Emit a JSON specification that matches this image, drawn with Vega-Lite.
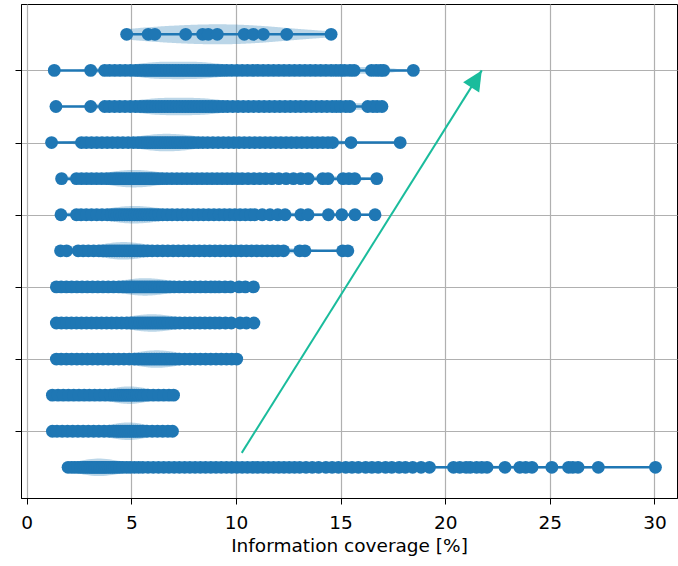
{
  "$schema": "https://vega.github.io/schema/vega-lite/v6.json",
  "width": 656,
  "height": 494,
  "autosize": {"type": "none"},
  "padding": {"left": 21, "top": 4, "right": 1, "bottom": 68},
  "background": "white",
  "config": {
    "font": "DejaVu Sans",
    "view": {"stroke": "black", "strokeWidth": 1},
    "axis": {
      "domainColor": "black", "tickColor": "black", "labelColor": "black", "titleColor": "black",
      "gridColor": "#b0b0b0", "gridWidth": 1.2, "tickSize": 6,
      "labelFont": "DejaVu Sans", "titleFont": "DejaVu Sans",
      "labelFontSize": 18.5, "titleFontSize": 18.5, "titleFontWeight": "normal", "zindex": 1
    }
  },
  "data": {"values": [
    {"row":1,"cov":1.98},{"row":1,"cov":2.15},{"row":1,"cov":2.3},{"row":1,"cov":2.45},{"row":1,"cov":2.58},{"row":1,"cov":2.7},{"row":1,"cov":2.8},{"row":1,"cov":2.9},{"row":1,"cov":3.0},{"row":1,"cov":3.08},{"row":1,"cov":3.16},{"row":1,"cov":3.24},{"row":1,"cov":3.32},{"row":1,"cov":3.4},{"row":1,"cov":3.48},{"row":1,"cov":3.56},{"row":1,"cov":3.64},{"row":1,"cov":3.72},{"row":1,"cov":3.8},{"row":1,"cov":3.9},{"row":1,"cov":4.0},{"row":1,"cov":4.1},{"row":1,"cov":4.2},{"row":1,"cov":4.32},{"row":1,"cov":4.45},{"row":1,"cov":4.6},{"row":1,"cov":4.78},{"row":1,"cov":4.95},{"row":1,"cov":5.15},{"row":1,"cov":5.35},{"row":1,"cov":5.55},{"row":1,"cov":5.8},{"row":1,"cov":6.05},{"row":1,"cov":6.3},{"row":1,"cov":6.55},{"row":1,"cov":6.8},{"row":1,"cov":7.05},{"row":1,"cov":7.3},{"row":1,"cov":7.55},{"row":1,"cov":7.8},{"row":1,"cov":8.05},{"row":1,"cov":8.3},{"row":1,"cov":8.55},{"row":1,"cov":8.8},{"row":1,"cov":9.05},{"row":1,"cov":9.3},{"row":1,"cov":9.55},{"row":1,"cov":9.8},{"row":1,"cov":10.05},{"row":1,"cov":10.3},{"row":1,"cov":10.55},{"row":1,"cov":10.8},{"row":1,"cov":11.05},{"row":1,"cov":11.3},{"row":1,"cov":11.55},{"row":1,"cov":11.8},{"row":1,"cov":12.05},{"row":1,"cov":12.3},{"row":1,"cov":12.55},{"row":1,"cov":12.8},{"row":1,"cov":13.05},{"row":1,"cov":13.35},{"row":1,"cov":13.65},{"row":1,"cov":13.95},{"row":1,"cov":14.3},{"row":1,"cov":14.6},{"row":1,"cov":14.9},{"row":1,"cov":15.25},{"row":1,"cov":15.55},{"row":1,"cov":15.85},{"row":1,"cov":16.2},{"row":1,"cov":16.5},{"row":1,"cov":16.8},{"row":1,"cov":17.15},{"row":1,"cov":17.45},{"row":1,"cov":17.8},{"row":1,"cov":18.1},{"row":1,"cov":18.45},{"row":1,"cov":18.85},{"row":1,"cov":19.25},{"row":1,"cov":20.4},{"row":1,"cov":20.7},{"row":1,"cov":21.0},{"row":1,"cov":21.2},{"row":1,"cov":21.5},{"row":1,"cov":21.75},{"row":1,"cov":22.0},{"row":1,"cov":22.86},{"row":1,"cov":23.57},{"row":1,"cov":23.85},{"row":1,"cov":24.15},{"row":1,"cov":25.1},{"row":1,"cov":25.9},{"row":1,"cov":26.1},{"row":1,"cov":26.35},{"row":1,"cov":27.32},{"row":1,"cov":30.05},
    {"row":2,"cov":1.23},{"row":2,"cov":1.45},{"row":2,"cov":1.7},{"row":2,"cov":1.95},{"row":2,"cov":2.2},{"row":2,"cov":2.45},{"row":2,"cov":2.7},{"row":2,"cov":2.95},{"row":2,"cov":3.2},{"row":2,"cov":3.45},{"row":2,"cov":3.7},{"row":2,"cov":3.95},{"row":2,"cov":4.15},{"row":2,"cov":4.3},{"row":2,"cov":4.4},{"row":2,"cov":4.5},{"row":2,"cov":4.6},{"row":2,"cov":4.7},{"row":2,"cov":4.8},{"row":2,"cov":4.9},{"row":2,"cov":5.0},{"row":2,"cov":5.1},{"row":2,"cov":5.2},{"row":2,"cov":5.3},{"row":2,"cov":5.42},{"row":2,"cov":5.55},{"row":2,"cov":5.75},{"row":2,"cov":6.0},{"row":2,"cov":6.25},{"row":2,"cov":6.5},{"row":2,"cov":6.75},{"row":2,"cov":6.97},
    {"row":3,"cov":1.23},{"row":3,"cov":1.5},{"row":3,"cov":1.75},{"row":3,"cov":2.0},{"row":3,"cov":2.25},{"row":3,"cov":2.5},{"row":3,"cov":2.75},{"row":3,"cov":3.0},{"row":3,"cov":3.25},{"row":3,"cov":3.5},{"row":3,"cov":3.75},{"row":3,"cov":4.0},{"row":3,"cov":4.2},{"row":3,"cov":4.35},{"row":3,"cov":4.45},{"row":3,"cov":4.55},{"row":3,"cov":4.65},{"row":3,"cov":4.75},{"row":3,"cov":4.85},{"row":3,"cov":4.95},{"row":3,"cov":5.05},{"row":3,"cov":5.15},{"row":3,"cov":5.25},{"row":3,"cov":5.35},{"row":3,"cov":5.48},{"row":3,"cov":5.6},{"row":3,"cov":5.8},{"row":3,"cov":6.05},{"row":3,"cov":6.3},{"row":3,"cov":6.55},{"row":3,"cov":6.8},{"row":3,"cov":7.02},
    {"row":4,"cov":1.42},{"row":4,"cov":1.65},{"row":4,"cov":1.9},{"row":4,"cov":2.15},{"row":4,"cov":2.4},{"row":4,"cov":2.65},{"row":4,"cov":2.9},{"row":4,"cov":3.15},{"row":4,"cov":3.4},{"row":4,"cov":3.65},{"row":4,"cov":3.9},{"row":4,"cov":4.15},{"row":4,"cov":4.4},{"row":4,"cov":4.65},{"row":4,"cov":4.9},{"row":4,"cov":5.15},{"row":4,"cov":5.35},{"row":4,"cov":5.5},{"row":4,"cov":5.62},{"row":4,"cov":5.74},{"row":4,"cov":5.86},{"row":4,"cov":5.98},{"row":4,"cov":6.1},{"row":4,"cov":6.22},{"row":4,"cov":6.34},{"row":4,"cov":6.46},{"row":4,"cov":6.58},{"row":4,"cov":6.7},{"row":4,"cov":6.82},{"row":4,"cov":6.95},{"row":4,"cov":7.1},{"row":4,"cov":7.3},{"row":4,"cov":7.55},{"row":4,"cov":7.8},{"row":4,"cov":8.05},{"row":4,"cov":8.3},{"row":4,"cov":8.55},{"row":4,"cov":8.8},{"row":4,"cov":9.05},{"row":4,"cov":9.3},{"row":4,"cov":9.55},{"row":4,"cov":9.8},{"row":4,"cov":10.04},
    {"row":5,"cov":1.42},{"row":5,"cov":1.66},{"row":5,"cov":1.9},{"row":5,"cov":2.14},{"row":5,"cov":2.38},{"row":5,"cov":2.62},{"row":5,"cov":2.86},{"row":5,"cov":3.1},{"row":5,"cov":3.34},{"row":5,"cov":3.58},{"row":5,"cov":3.82},{"row":5,"cov":4.06},{"row":5,"cov":4.3},{"row":5,"cov":4.54},{"row":5,"cov":4.78},{"row":5,"cov":5.0},{"row":5,"cov":5.16},{"row":5,"cov":5.3},{"row":5,"cov":5.42},{"row":5,"cov":5.54},{"row":5,"cov":5.66},{"row":5,"cov":5.78},{"row":5,"cov":5.9},{"row":5,"cov":6.02},{"row":5,"cov":6.14},{"row":5,"cov":6.26},{"row":5,"cov":6.38},{"row":5,"cov":6.5},{"row":5,"cov":6.62},{"row":5,"cov":6.76},{"row":5,"cov":6.92},{"row":5,"cov":7.1},{"row":5,"cov":7.32},{"row":5,"cov":7.56},{"row":5,"cov":7.8},{"row":5,"cov":8.04},{"row":5,"cov":8.28},{"row":5,"cov":8.52},{"row":5,"cov":8.76},{"row":5,"cov":9.0},{"row":5,"cov":9.22},{"row":5,"cov":9.5},{"row":5,"cov":9.78},{"row":5,"cov":10.2},{"row":5,"cov":10.5},{"row":5,"cov":10.86},
    {"row":6,"cov":1.42},{"row":6,"cov":1.65},{"row":6,"cov":1.9},{"row":6,"cov":2.15},{"row":6,"cov":2.4},{"row":6,"cov":2.65},{"row":6,"cov":2.9},{"row":6,"cov":3.15},{"row":6,"cov":3.4},{"row":6,"cov":3.65},{"row":6,"cov":3.9},{"row":6,"cov":4.15},{"row":6,"cov":4.4},{"row":6,"cov":4.6},{"row":6,"cov":4.78},{"row":6,"cov":4.92},{"row":6,"cov":5.04},{"row":6,"cov":5.16},{"row":6,"cov":5.28},{"row":6,"cov":5.4},{"row":6,"cov":5.52},{"row":6,"cov":5.64},{"row":6,"cov":5.76},{"row":6,"cov":5.88},{"row":6,"cov":6.0},{"row":6,"cov":6.12},{"row":6,"cov":6.24},{"row":6,"cov":6.36},{"row":6,"cov":6.5},{"row":6,"cov":6.66},{"row":6,"cov":6.85},{"row":6,"cov":7.05},{"row":6,"cov":7.3},{"row":6,"cov":7.55},{"row":6,"cov":7.8},{"row":6,"cov":8.05},{"row":6,"cov":8.3},{"row":6,"cov":8.55},{"row":6,"cov":8.8},{"row":6,"cov":9.0},{"row":6,"cov":9.2},{"row":6,"cov":9.48},{"row":6,"cov":9.75},{"row":6,"cov":10.15},{"row":6,"cov":10.45},{"row":6,"cov":10.84},
    {"row":7,"cov":1.62},{"row":7,"cov":1.91},{"row":7,"cov":2.46},{"row":7,"cov":2.7},{"row":7,"cov":2.95},{"row":7,"cov":3.2},{"row":7,"cov":3.45},{"row":7,"cov":3.65},{"row":7,"cov":3.82},{"row":7,"cov":3.96},{"row":7,"cov":4.08},{"row":7,"cov":4.2},{"row":7,"cov":4.32},{"row":7,"cov":4.44},{"row":7,"cov":4.56},{"row":7,"cov":4.68},{"row":7,"cov":4.8},{"row":7,"cov":4.92},{"row":7,"cov":5.04},{"row":7,"cov":5.16},{"row":7,"cov":5.28},{"row":7,"cov":5.42},{"row":7,"cov":5.58},{"row":7,"cov":5.78},{"row":7,"cov":6.0},{"row":7,"cov":6.25},{"row":7,"cov":6.5},{"row":7,"cov":6.75},{"row":7,"cov":7.0},{"row":7,"cov":7.25},{"row":7,"cov":7.5},{"row":7,"cov":7.75},{"row":7,"cov":8.0},{"row":7,"cov":8.25},{"row":7,"cov":8.5},{"row":7,"cov":8.75},{"row":7,"cov":9.0},{"row":7,"cov":9.25},{"row":7,"cov":9.5},{"row":7,"cov":9.75},{"row":7,"cov":10.0},{"row":7,"cov":10.25},{"row":7,"cov":10.5},{"row":7,"cov":10.75},{"row":7,"cov":11.0},{"row":7,"cov":11.25},{"row":7,"cov":11.5},{"row":7,"cov":11.75},{"row":7,"cov":12.0},{"row":7,"cov":12.28},{"row":7,"cov":13.05},{"row":7,"cov":13.3},{"row":7,"cov":15.1},{"row":7,"cov":15.35},
    {"row":8,"cov":1.64},{"row":8,"cov":2.38},{"row":8,"cov":2.6},{"row":8,"cov":2.85},{"row":8,"cov":3.1},{"row":8,"cov":3.35},{"row":8,"cov":3.6},{"row":8,"cov":3.85},{"row":8,"cov":4.05},{"row":8,"cov":4.2},{"row":8,"cov":4.32},{"row":8,"cov":4.44},{"row":8,"cov":4.56},{"row":8,"cov":4.68},{"row":8,"cov":4.8},{"row":8,"cov":4.92},{"row":8,"cov":5.04},{"row":8,"cov":5.16},{"row":8,"cov":5.28},{"row":8,"cov":5.4},{"row":8,"cov":5.52},{"row":8,"cov":5.64},{"row":8,"cov":5.76},{"row":8,"cov":5.88},{"row":8,"cov":6.0},{"row":8,"cov":6.14},{"row":8,"cov":6.3},{"row":8,"cov":6.5},{"row":8,"cov":6.72},{"row":8,"cov":6.95},{"row":8,"cov":7.2},{"row":8,"cov":7.45},{"row":8,"cov":7.7},{"row":8,"cov":7.95},{"row":8,"cov":8.2},{"row":8,"cov":8.45},{"row":8,"cov":8.7},{"row":8,"cov":8.95},{"row":8,"cov":9.2},{"row":8,"cov":9.45},{"row":8,"cov":9.7},{"row":8,"cov":9.95},{"row":8,"cov":10.2},{"row":8,"cov":10.45},{"row":8,"cov":10.7},{"row":8,"cov":10.9},{"row":8,"cov":11.26},{"row":8,"cov":11.63},{"row":8,"cov":12.0},{"row":8,"cov":12.35},{"row":8,"cov":13.1},{"row":8,"cov":13.45},{"row":8,"cov":14.42},{"row":8,"cov":15.06},{"row":8,"cov":15.69},{"row":8,"cov":16.65},
    {"row":9,"cov":1.67},{"row":9,"cov":2.38},{"row":9,"cov":2.62},{"row":9,"cov":2.86},{"row":9,"cov":3.1},{"row":9,"cov":3.34},{"row":9,"cov":3.58},{"row":9,"cov":3.82},{"row":9,"cov":4.02},{"row":9,"cov":4.18},{"row":9,"cov":4.3},{"row":9,"cov":4.42},{"row":9,"cov":4.54},{"row":9,"cov":4.66},{"row":9,"cov":4.78},{"row":9,"cov":4.9},{"row":9,"cov":5.02},{"row":9,"cov":5.14},{"row":9,"cov":5.26},{"row":9,"cov":5.38},{"row":9,"cov":5.5},{"row":9,"cov":5.62},{"row":9,"cov":5.74},{"row":9,"cov":5.86},{"row":9,"cov":5.98},{"row":9,"cov":6.12},{"row":9,"cov":6.28},{"row":9,"cov":6.48},{"row":9,"cov":6.7},{"row":9,"cov":6.94},{"row":9,"cov":7.18},{"row":9,"cov":7.42},{"row":9,"cov":7.66},{"row":9,"cov":7.9},{"row":9,"cov":8.14},{"row":9,"cov":8.38},{"row":9,"cov":8.62},{"row":9,"cov":8.86},{"row":9,"cov":9.1},{"row":9,"cov":9.34},{"row":9,"cov":9.58},{"row":9,"cov":9.82},{"row":9,"cov":10.06},{"row":9,"cov":10.3},{"row":9,"cov":10.58},{"row":9,"cov":10.86},{"row":9,"cov":11.14},{"row":9,"cov":11.42},{"row":9,"cov":11.72},{"row":9,"cov":12.05},{"row":9,"cov":12.4},{"row":9,"cov":12.75},{"row":9,"cov":13.1},{"row":9,"cov":13.45},{"row":9,"cov":14.15},{"row":9,"cov":14.4},{"row":9,"cov":15.12},{"row":9,"cov":15.4},{"row":9,"cov":15.68},{"row":9,"cov":16.73},
    {"row":10,"cov":1.19},{"row":10,"cov":2.62},{"row":10,"cov":2.85},{"row":10,"cov":3.1},{"row":10,"cov":3.35},{"row":10,"cov":3.6},{"row":10,"cov":3.85},{"row":10,"cov":4.1},{"row":10,"cov":4.35},{"row":10,"cov":4.6},{"row":10,"cov":4.85},{"row":10,"cov":5.1},{"row":10,"cov":5.32},{"row":10,"cov":5.5},{"row":10,"cov":5.65},{"row":10,"cov":5.78},{"row":10,"cov":5.9},{"row":10,"cov":6.02},{"row":10,"cov":6.14},{"row":10,"cov":6.26},{"row":10,"cov":6.38},{"row":10,"cov":6.5},{"row":10,"cov":6.62},{"row":10,"cov":6.74},{"row":10,"cov":6.86},{"row":10,"cov":6.98},{"row":10,"cov":7.1},{"row":10,"cov":7.22},{"row":10,"cov":7.34},{"row":10,"cov":7.46},{"row":10,"cov":7.58},{"row":10,"cov":7.7},{"row":10,"cov":7.85},{"row":10,"cov":8.0},{"row":10,"cov":8.2},{"row":10,"cov":8.42},{"row":10,"cov":8.65},{"row":10,"cov":8.9},{"row":10,"cov":9.15},{"row":10,"cov":9.4},{"row":10,"cov":9.65},{"row":10,"cov":9.9},{"row":10,"cov":10.15},{"row":10,"cov":10.4},{"row":10,"cov":10.65},{"row":10,"cov":10.9},{"row":10,"cov":11.15},{"row":10,"cov":11.4},{"row":10,"cov":11.65},{"row":10,"cov":11.9},{"row":10,"cov":12.15},{"row":10,"cov":12.4},{"row":10,"cov":12.65},{"row":10,"cov":12.9},{"row":10,"cov":13.15},{"row":10,"cov":13.4},{"row":10,"cov":13.65},{"row":10,"cov":13.9},{"row":10,"cov":14.15},{"row":10,"cov":14.4},{"row":10,"cov":14.62},{"row":10,"cov":15.5},{"row":10,"cov":17.85},
    {"row":11,"cov":1.4},{"row":11,"cov":3.06},{"row":11,"cov":3.73},{"row":11,"cov":3.95},{"row":11,"cov":4.2},{"row":11,"cov":4.45},{"row":11,"cov":4.7},{"row":11,"cov":4.95},{"row":11,"cov":5.2},{"row":11,"cov":5.42},{"row":11,"cov":5.6},{"row":11,"cov":5.75},{"row":11,"cov":5.9},{"row":11,"cov":6.04},{"row":11,"cov":6.18},{"row":11,"cov":6.32},{"row":11,"cov":6.46},{"row":11,"cov":6.6},{"row":11,"cov":6.74},{"row":11,"cov":6.88},{"row":11,"cov":7.02},{"row":11,"cov":7.16},{"row":11,"cov":7.3},{"row":11,"cov":7.44},{"row":11,"cov":7.58},{"row":11,"cov":7.72},{"row":11,"cov":7.86},{"row":11,"cov":8.0},{"row":11,"cov":8.14},{"row":11,"cov":8.28},{"row":11,"cov":8.42},{"row":11,"cov":8.56},{"row":11,"cov":8.7},{"row":11,"cov":8.85},{"row":11,"cov":9.0},{"row":11,"cov":9.18},{"row":11,"cov":9.38},{"row":11,"cov":9.6},{"row":11,"cov":9.85},{"row":11,"cov":10.1},{"row":11,"cov":10.35},{"row":11,"cov":10.6},{"row":11,"cov":10.85},{"row":11,"cov":11.1},{"row":11,"cov":11.35},{"row":11,"cov":11.6},{"row":11,"cov":11.85},{"row":11,"cov":12.1},{"row":11,"cov":12.35},{"row":11,"cov":12.6},{"row":11,"cov":12.85},{"row":11,"cov":13.1},{"row":11,"cov":13.35},{"row":11,"cov":13.6},{"row":11,"cov":13.85},{"row":11,"cov":14.1},{"row":11,"cov":14.35},{"row":11,"cov":14.6},{"row":11,"cov":14.8},{"row":11,"cov":15.0},{"row":11,"cov":15.25},{"row":11,"cov":15.45},{"row":11,"cov":16.3},{"row":11,"cov":16.55},{"row":11,"cov":16.75},{"row":11,"cov":16.98},
    {"row":12,"cov":1.32},{"row":12,"cov":3.06},{"row":12,"cov":3.73},{"row":12,"cov":3.96},{"row":12,"cov":4.21},{"row":12,"cov":4.46},{"row":12,"cov":4.71},{"row":12,"cov":4.96},{"row":12,"cov":5.21},{"row":12,"cov":5.4},{"row":12,"cov":5.57},{"row":12,"cov":5.72},{"row":12,"cov":5.86},{"row":12,"cov":6.0},{"row":12,"cov":6.14},{"row":12,"cov":6.28},{"row":12,"cov":6.42},{"row":12,"cov":6.56},{"row":12,"cov":6.7},{"row":12,"cov":6.84},{"row":12,"cov":6.98},{"row":12,"cov":7.12},{"row":12,"cov":7.26},{"row":12,"cov":7.4},{"row":12,"cov":7.54},{"row":12,"cov":7.68},{"row":12,"cov":7.82},{"row":12,"cov":7.96},{"row":12,"cov":8.1},{"row":12,"cov":8.24},{"row":12,"cov":8.38},{"row":12,"cov":8.52},{"row":12,"cov":8.66},{"row":12,"cov":8.8},{"row":12,"cov":8.96},{"row":12,"cov":9.14},{"row":12,"cov":9.34},{"row":12,"cov":9.56},{"row":12,"cov":9.8},{"row":12,"cov":10.05},{"row":12,"cov":10.3},{"row":12,"cov":10.55},{"row":12,"cov":10.8},{"row":12,"cov":11.05},{"row":12,"cov":11.3},{"row":12,"cov":11.55},{"row":12,"cov":11.8},{"row":12,"cov":12.05},{"row":12,"cov":12.3},{"row":12,"cov":12.55},{"row":12,"cov":12.8},{"row":12,"cov":13.05},{"row":12,"cov":13.3},{"row":12,"cov":13.55},{"row":12,"cov":13.8},{"row":12,"cov":14.05},{"row":12,"cov":14.3},{"row":12,"cov":14.55},{"row":12,"cov":14.78},{"row":12,"cov":15.0},{"row":12,"cov":15.2},{"row":12,"cov":15.45},{"row":12,"cov":15.65},{"row":12,"cov":16.48},{"row":12,"cov":16.7},{"row":12,"cov":16.9},{"row":12,"cov":17.06},{"row":12,"cov":18.48},
    {"row":13,"cov":4.78},{"row":13,"cov":5.81},{"row":13,"cov":6.13},{"row":13,"cov":7.6},{"row":13,"cov":8.41},{"row":13,"cov":8.68},{"row":13,"cov":9.11},{"row":13,"cov":10.4},{"row":13,"cov":10.83},{"row":13,"cov":11.31},{"row":13,"cov":12.43},{"row":13,"cov":14.55}
  ]},
  "encoding": {
    "x": {
      "field": "cov", "type": "quantitative", "title": "Information coverage [%]",
      "scale": {"domain": [-0.27, 31.08], "nice": false, "zero": false},
      "axis": {"values": [0, 5, 10, 15, 20, 25, 30], "grid": true, "labelPadding": 9, "titlePadding": 5, "labelFlush": false}
    },
    "y": {
      "field": "row", "type": "quantitative", "title": null,
      "scale": {"domain": [0.15, 13.84], "nice": false, "zero": false},
      "axis": {"values": [2, 4, 6, 8, 10, 12], "labels": false, "grid": true}
    }
  },
  "resolve": {"scale": {"size": "independent"}},
  "layer": [
    {"transform": [{"filter": {"field": "row", "equal": 1}}, {"density": "cov", "groupby": ["row"], "bandwidth": 0.6, "steps": 200, "as": ["cov", "density"]}],
     "mark": {"type": "trail", "color": "#1f77b4", "opacity": 0.3},
     "encoding": {"size": {"field": "density", "type": "quantitative", "scale": {"range": [0, 17.5], "zero": true}, "legend": null}}},
    {"transform": [{"filter": {"field": "row", "equal": 2}}, {"density": "cov", "groupby": ["row"], "bandwidth": 0.6, "steps": 200, "as": ["cov", "density"]}],
     "mark": {"type": "trail", "color": "#1f77b4", "opacity": 0.3},
     "encoding": {"size": {"field": "density", "type": "quantitative", "scale": {"range": [0, 17.5], "zero": true}, "legend": null}}},
    {"transform": [{"filter": {"field": "row", "equal": 3}}, {"density": "cov", "groupby": ["row"], "bandwidth": 0.6, "steps": 200, "as": ["cov", "density"]}],
     "mark": {"type": "trail", "color": "#1f77b4", "opacity": 0.3},
     "encoding": {"size": {"field": "density", "type": "quantitative", "scale": {"range": [0, 17.5], "zero": true}, "legend": null}}},
    {"transform": [{"filter": {"field": "row", "equal": 4}}, {"density": "cov", "groupby": ["row"], "bandwidth": 0.6, "steps": 200, "as": ["cov", "density"]}],
     "mark": {"type": "trail", "color": "#1f77b4", "opacity": 0.3},
     "encoding": {"size": {"field": "density", "type": "quantitative", "scale": {"range": [0, 17.5], "zero": true}, "legend": null}}},
    {"transform": [{"filter": {"field": "row", "equal": 5}}, {"density": "cov", "groupby": ["row"], "bandwidth": 0.6, "steps": 200, "as": ["cov", "density"]}],
     "mark": {"type": "trail", "color": "#1f77b4", "opacity": 0.3},
     "encoding": {"size": {"field": "density", "type": "quantitative", "scale": {"range": [0, 17.5], "zero": true}, "legend": null}}},
    {"transform": [{"filter": {"field": "row", "equal": 6}}, {"density": "cov", "groupby": ["row"], "bandwidth": 0.6, "steps": 200, "as": ["cov", "density"]}],
     "mark": {"type": "trail", "color": "#1f77b4", "opacity": 0.3},
     "encoding": {"size": {"field": "density", "type": "quantitative", "scale": {"range": [0, 17.5], "zero": true}, "legend": null}}},
    {"transform": [{"filter": {"field": "row", "equal": 7}}, {"density": "cov", "groupby": ["row"], "bandwidth": 0.6, "steps": 200, "as": ["cov", "density"]}],
     "mark": {"type": "trail", "color": "#1f77b4", "opacity": 0.3},
     "encoding": {"size": {"field": "density", "type": "quantitative", "scale": {"range": [0, 17.5], "zero": true}, "legend": null}}},
    {"transform": [{"filter": {"field": "row", "equal": 8}}, {"density": "cov", "groupby": ["row"], "bandwidth": 0.6, "steps": 200, "as": ["cov", "density"]}],
     "mark": {"type": "trail", "color": "#1f77b4", "opacity": 0.3},
     "encoding": {"size": {"field": "density", "type": "quantitative", "scale": {"range": [0, 17.5], "zero": true}, "legend": null}}},
    {"transform": [{"filter": {"field": "row", "equal": 9}}, {"density": "cov", "groupby": ["row"], "bandwidth": 0.6, "steps": 200, "as": ["cov", "density"]}],
     "mark": {"type": "trail", "color": "#1f77b4", "opacity": 0.3},
     "encoding": {"size": {"field": "density", "type": "quantitative", "scale": {"range": [0, 17.5], "zero": true}, "legend": null}}},
    {"transform": [{"filter": {"field": "row", "equal": 10}}, {"density": "cov", "groupby": ["row"], "bandwidth": 0.6, "steps": 200, "as": ["cov", "density"]}],
     "mark": {"type": "trail", "color": "#1f77b4", "opacity": 0.3},
     "encoding": {"size": {"field": "density", "type": "quantitative", "scale": {"range": [0, 17.5], "zero": true}, "legend": null}}},
    {"transform": [{"filter": {"field": "row", "equal": 11}}, {"density": "cov", "groupby": ["row"], "bandwidth": 0.6, "steps": 200, "as": ["cov", "density"]}],
     "mark": {"type": "trail", "color": "#1f77b4", "opacity": 0.3},
     "encoding": {"size": {"field": "density", "type": "quantitative", "scale": {"range": [0, 17.5], "zero": true}, "legend": null}}},
    {"transform": [{"filter": {"field": "row", "equal": 12}}, {"density": "cov", "groupby": ["row"], "bandwidth": 0.6, "steps": 200, "as": ["cov", "density"]}],
     "mark": {"type": "trail", "color": "#1f77b4", "opacity": 0.3},
     "encoding": {"size": {"field": "density", "type": "quantitative", "scale": {"range": [0, 17.5], "zero": true}, "legend": null}}},
    {"transform": [{"filter": {"field": "row", "equal": 13}}, {"density": "cov", "groupby": ["row"], "steps": 200, "as": ["cov", "density"]}],
     "mark": {"type": "trail", "color": "#1f77b4", "opacity": 0.3},
     "encoding": {"size": {"field": "density", "type": "quantitative", "scale": {"range": [0, 20], "zero": true}, "legend": null}}},
    {"mark": {"type": "line", "color": "#1f77b4", "strokeWidth": 2.5},
     "encoding": {"detail": {"field": "row", "type": "nominal"}}},
    {"mark": {"type": "point", "filled": true, "color": "#1f77b4", "opacity": 1, "size": 165, "strokeWidth": 0},
     "encoding": {}},
    {"data": {"values": [{"cov": 10.28, "row": 1.4}, {"cov": 21.75, "row": 12.0}]},
     "mark": {"type": "line", "color": "#1abc9c", "strokeWidth": 2},
     "encoding": {}},
    {"data": {"values": [{"cov": 21.75, "row": 12.0}]},
     "mark": {"type": "point", "shape": "M0,0L-0.95,2L0.95,2Z", "size": 400, "angle": 32, "filled": true, "color": "#1abc9c", "opacity": 1, "strokeWidth": 0},
     "encoding": {}}
  ]
}
